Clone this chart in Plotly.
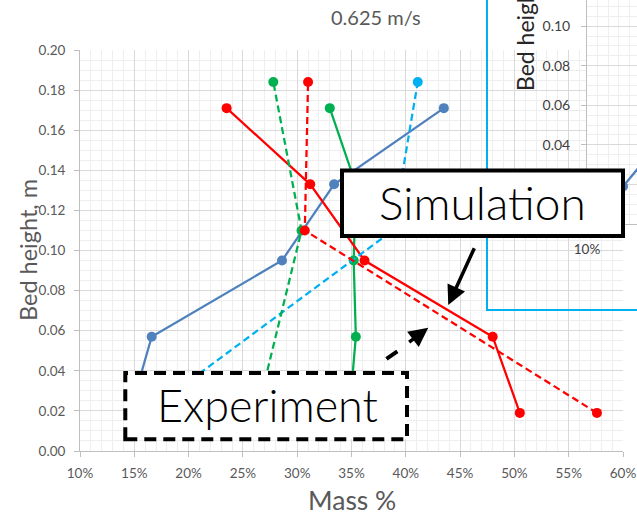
import plotly.graph_objects as go

W, H = 637, 516

# Bed heights of the sampling points, m
h_sim = [0.019, 0.057, 0.095, 0.133, 0.171]
h_exp = [0.019, 0.110, 0.184]

# Simulated mass fractions (solid lines)
sim_blue = [0.146, 0.166, 0.286, 0.334, 0.435]
sim_green = [0.348, 0.354, 0.352, 0.354, 0.330]
sim_red = [0.505, 0.480, 0.362, 0.312, 0.235]

# Measured mass fractions (dashed lines)
exp_cyan = [0.161, 0.388, 0.411]
exp_green = [0.263, 0.304, 0.278]
exp_red = [0.576, 0.307, 0.310]

# Neighbouring panel (only its lower-left corner is in view)
inset_mass = [0.134, 0.193]
inset_height = [0.019, 0.057]

x_ticks = [0.10, 0.15, 0.20, 0.25, 0.30, 0.35, 0.40, 0.45, 0.50, 0.55, 0.60]
y_ticks = [0.00, 0.02, 0.04, 0.06, 0.08, 0.10, 0.12, 0.14, 0.16, 0.18, 0.20]
# neighbouring panel: lowest two labels sit behind the call-out box
inset_y_ticks = [0.00, 0.02, 0.04, 0.06, 0.08, 0.10]
inset_y_text = ["", "", "0.04", "0.06", "0.08", "0.10"]

BLUE, GREEN, RED, CYAN = "#4F81BD", "#00B050", "#FF0000", "#00B0F0"
GREY_TXT = "#595959"
FONT = "Lato"
LIGHT = "Lato Light, Lato"
DASH = "7px,4px"


def px(x):
    return x / W


def py(y):
    return 1 - y / H


fig = go.Figure()


def add_series(xs, ys, color, dash, axes=("x", "y")):
    fig.add_trace(go.Scatter(
        x=xs, y=ys, mode="lines+markers", xaxis=axes[0], yaxis=axes[1],
        line=dict(color=color, width=2.25, dash=dash),
        marker=dict(color=color, size=10), showlegend=False,
        hoverinfo="skip"))


add_series(sim_blue, h_sim, BLUE, "solid")
add_series(sim_green, h_sim, GREEN, "solid")
add_series(sim_red, h_sim, RED, "solid")
add_series(exp_cyan, h_exp, CYAN, DASH)
add_series(exp_green, h_exp, GREEN, DASH)
add_series(exp_red, h_exp, RED, DASH)
add_series(inset_mass, inset_height, BLUE, "solid", axes=("x3", "y3"))

grid = dict(showgrid=True, gridcolor="#D9D9D9", gridwidth=1, zeroline=False,
            showline=True, linecolor="#BFBFBF", linewidth=1,
            ticks="outside", ticklen=5, tickcolor="#BFBFBF")

fig.update_layout(
    width=W, height=H, margin=dict(l=0, r=0, t=0, b=0, autoexpand=False),
    paper_bgcolor="white", plot_bgcolor="white", showlegend=False,
    font=dict(family=FONT, color=GREY_TXT),
    xaxis=dict(domain=[px(80), px(623)], range=[0.10, 0.60], anchor="y",
               tickvals=x_ticks, tickformat=".0%", ticklabelstandoff=5,
               tickfont=dict(size=13.5, color=GREY_TXT),
               minor=dict(dtick=0.01, showgrid=True, gridcolor="#EEEEEE", ticks=""),
               **grid),
    yaxis=dict(domain=[py(451), py(50)], range=[0, 0.20], anchor="x",
               tickvals=y_ticks, tickformat=".2f", ticklabelstandoff=6,
               tickfont=dict(size=13.5, color=GREY_TXT),
               minor=dict(dtick=0.005, showgrid=True, gridcolor="#EEEEEE", ticks=""),
               **grid),
    # blank white panel behind the neighbouring chart
    xaxis2=dict(domain=[px(487), 1], range=[0, 1], anchor="y2", showgrid=False,
                showline=False, zeroline=False, showticklabels=False, ticks=""),
    yaxis2=dict(domain=[py(310), 1], range=[0, 1], anchor="x2", showgrid=False,
                showline=False, zeroline=False, showticklabels=False, ticks=""),
    xaxis3=dict(domain=[px(587), 1], range=[0.10, 0.10 + 50 / 1060], anchor="y3",
                tickvals=x_ticks, tickformat=".0%", ticklabelstandoff=8,
                tickfont=dict(size=13.5, color="#404040"),
                minor=dict(dtick=0.01, showgrid=True, gridcolor="#EEEEEE", ticks=""),
                **grid),
    yaxis3=dict(domain=[py(224), 1], range=[0, 0.10 + 26 / 1965], anchor="x3",
                tickvals=inset_y_ticks, ticktext=inset_y_text, ticklabelstandoff=8,
                tickfont=dict(size=14, color="#404040"),
                minor=dict(dtick=0.005, showgrid=True, gridcolor="#EEEEEE", ticks=""),
                **grid),
)

shapes = [
    # frame of the neighbouring chart
    dict(type="rect", xref="paper", yref="paper", x0=px(487), x1=1.05,
         y0=py(310), y1=1.05, line=dict(color=CYAN, width=2),
         fillcolor="rgba(0,0,0,0)", layer="above"),
    # "Simulation" call-out box
    dict(type="rect", xref="paper", yref="paper", x0=px(342), x1=px(623),
         y0=py(236), y1=py(170.5), line=dict(color="black", width=4),
         fillcolor="white", layer="above"),
    # "Experiment" call-out box
    dict(type="rect", xref="paper", yref="paper", x0=px(125.3), x1=px(407),
         y0=py(439.3), y1=py(373), line=dict(color="black", width=4, dash="12px,7px"),
         fillcolor="white", layer="above"),
]
fig.update_layout(shapes=shapes)

ann = [
    dict(text="0.625 m/s", x=px(375.5), y=py(17), font=dict(size=20, color=GREY_TXT)),
    dict(text="Bed height, m", x=px(28), y=py(250), textangle=-90,
         font=dict(size=23.5, color=GREY_TXT)),
    dict(text="Mass %", x=px(352), y=py(500), font=dict(size=26.5, color=GREY_TXT)),
    dict(text="Bed height, m", x=px(525), y=py(22), textangle=-90,
         font=dict(size=23, color="#262626")),
    dict(text="Simulation", x=px(482.5), y=py(202),
         font=dict(family=LIGHT, size=46, color="black", weight=300)),
    dict(text="Experiment", x=px(267.5), y=py(405),
         font=dict(family=LIGHT, size=45, color="black", weight=300)),
]
for a in ann:
    a.update(xref="paper", yref="paper", showarrow=False,
             xanchor="center", yanchor="middle")

arrows = [
    # solid arrow to the simulated curve
    dict(x=0.4391, y=0.0728, ax=0.4637, ay=0.1019, arrowwidth=3.5,
         arrowhead=2, arrowsize=1.1),
    # dashed arrow to the measured curve: one dash, then the head
    dict(x=0.3922, y=0.0497, ax=0.3808, ay=0.0454, arrowwidth=4, arrowhead=0),
    dict(x=0.4207, y=0.0615, ax=0.4017, ay=0.0537, arrowwidth=3.5,
         arrowhead=2, arrowsize=1.1),
]
for a in arrows:
    a.update(xref="x", yref="y", axref="x", ayref="y", text="", showarrow=True,
             arrowcolor="black", standoff=0, startstandoff=0)

fig.update_layout(annotations=ann + arrows)

fig.write_html("out.html")
